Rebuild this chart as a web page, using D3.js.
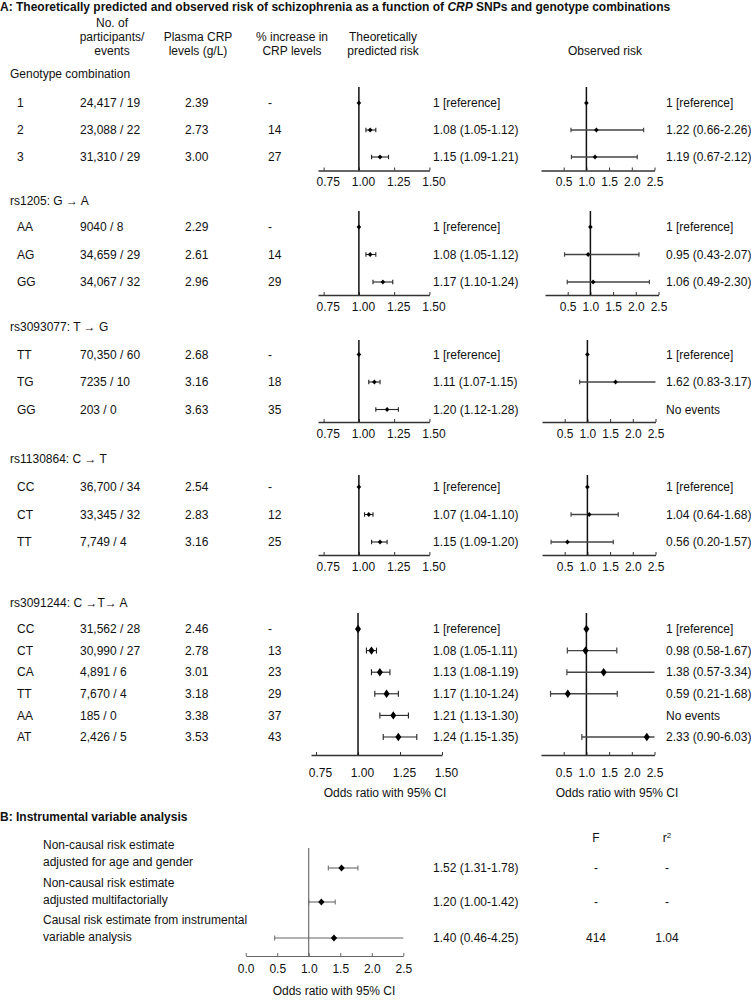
<!DOCTYPE html>
<html><head><meta charset="utf-8">
<script src="https://cdn.jsdelivr.net/npm/d3@7"></script>
<style>
body{margin:0;background:#fff}
svg text{font-family:'Liberation Sans Narrow','Arial Narrow','Liberation Sans',Arial,sans-serif;fill:#111;font-size:12px}
</style>
</head><body><svg id="c" width="751" height="1000"></svg>
<script>
// ---------------- DATA ----------------
const sectionTitles = ["Genotype combination", "rs1205: G \u2192 A", "rs3093077: T \u2192 G", "rs1130864: C \u2192 T", "rs3091244: C \u2192T\u2192 A"];
const rowSection   = [0,0,0, 1,1,1, 2,2,2, 3,3,3, 4,4,4,4,4,4];
const genotypes    = ["1","2","3", "AA","AG","GG", "TT","TG","GG", "CC","CT","TT", "CC","CT","CA","TT","AA","AT"];
const participants = ["24,417 / 19","23,088 / 22","31,310 / 29", "9040 / 8","34,659 / 29","34,067 / 32",
                      "70,350 / 60","7235 / 10","203 / 0", "36,700 / 34","33,345 / 32","7,749 / 4",
                      "31,562 / 28","30,990 / 27","4,891 / 6","7,670 / 4","185 / 0","2,426 / 5"];
const crpLevels    = [2.39,2.73,3.00, 2.29,2.61,2.96, 2.68,3.16,3.63, 2.54,2.83,3.16, 2.46,2.78,3.01,3.18,3.38,3.53];
const pctIncrease  = [null,14,27, null,14,29, null,18,35, null,12,25, null,13,23,29,37,43];
const theoOR = [1,1.08,1.15, 1,1.08,1.17, 1,1.11,1.20, 1,1.07,1.15, 1,1.08,1.13,1.17,1.21,1.24];
const theoLo = [null,1.05,1.09, null,1.05,1.10, null,1.07,1.12, null,1.04,1.09, null,1.05,1.08,1.10,1.13,1.15];
const theoHi = [null,1.12,1.21, null,1.12,1.24, null,1.15,1.28, null,1.10,1.20, null,1.11,1.19,1.24,1.30,1.35];
const obsOR  = [1,1.22,1.19, 1,0.95,1.06, 1,1.62,null, 1,1.04,0.56, 1,0.98,1.38,0.59,null,2.33];
const obsLo  = [null,0.66,0.67, null,0.43,0.49, null,0.83,null, null,0.64,0.20, null,0.58,0.57,0.21,null,0.90];
const obsHi  = [null,2.26,2.12, null,2.07,2.30, null,3.17,null, null,1.68,1.57, null,1.67,3.34,1.68,null,6.03];
const theoTicks = [0.75,1.00,1.25,1.50];
const obsTicks  = [0.5,1.0,1.5,2.0,2.5];

const bLabels = [["Non-causal risk estimate","adjusted for age and gender"],
                 ["Non-causal risk estimate","adjusted multifactorially"],
                 ["Causal risk estimate from instrumental","variable analysis"]];
const bOR = [1.52,1.20,1.40];
const bLo = [1.31,1.00,0.46];
const bHi = [1.78,1.42,4.25];
const bF  = ["-","-","414"];
const bR2 = ["-","-","1.04"];
const bTicks = [0,0.5,1.0,1.5,2.0,2.5];

// ---------------- LAYOUT ----------------
const layout = [
  {header:74,  first:103, step:27,   refTop:87,  axisY:170.5, labY:182, theoD:[0.71,1.5], theoR:[318,429.4], obsR:[541,654.5], big:false},
  {header:201, first:227, step:27.5, refTop:211, axisY:295,   labY:306.5, theoD:[0.71,1.5], theoR:[318,429.4], obsR:[545,658.5], big:false},
  {header:327, first:354.5,step:27.5,refTop:340, axisY:422,   labY:433.5, theoD:[0.71,1.5], theoR:[318,429.4], obsR:[542,655.5], big:false},
  {header:459, first:487, step:27.5, refTop:475, axisY:555,   labY:567, theoD:[0.71,1.5], theoR:[318,429.4], obsR:[542,655.5], big:false},
  {header:603, first:629, step:21.6, refTop:613, axisY:755,   labY:773, theoD:[0.72,1.5], theoR:[311,442], obsR:[541,654.5], big:true}
];
const colX = {geno:17, part:80, crp:185, pct:268, theoTxt:433, obsTxt:666};
const FONT = "'Liberation Sans Narrow','Arial Narrow','Liberation Sans',Arial,sans-serif";

const svg = d3.select("#c");
svg.append("rect").attr("width",751).attr("height",1000).attr("fill","#fff");

function txt(x,y,s,anchor){
  return svg.append("text").attr("x",x).attr("y",y).attr("dy","0.35em")
    .attr("text-anchor",anchor||"start").text(s);
}
function diamond(x,y,w,h){ return `M${x},${y-h}L${x+w},${y}L${x},${y+h}L${x-w},${y}Z`; }

// Title
const title = svg.append("text").attr("x",0).attr("y",7).attr("dy","0.35em")
  .style("font-weight","bold").style("font-size","12px");
title.append("tspan").text("A: Theoretically predicted and observed risk of schizophrenia as a function of ");
title.append("tspan").style("font-style","italic").text("CRP");
title.append("tspan").text(" SNPs and genotype combinations");

// Column headers
txt(112,23,"No. of","middle"); txt(112,37,"participants/","middle"); txt(112,51,"events","middle");
txt(198,37,"Plasma CRP","middle"); txt(198,51,"levels (g/L)","middle");
txt(292,37,"% increase in","middle"); txt(292,51,"CRP levels","middle");
txt(383,37,"Theoretically","middle"); txt(383,51,"predicted risk","middle");
txt(605,51,"Observed risk","middle");

// Sections
layout.forEach((L,si)=>{
  txt(10, L.header, sectionTitles[si]);
  const idx = rowSection.map((s,i)=>s===si?i:-1).filter(i=>i>=0);
  const rowY = k => L.first + k*L.step;
  const xT = d3.scaleLinear().domain(L.theoD).range(L.theoR);
  const xO = d3.scaleLinear().domain([0,2.5]).range(L.obsR);
  const mw = L.big?3:2.3, mh = L.big?4.2:2.6, cap = L.big?3:2.2;

  const gT = svg.append("g").attr("transform",`translate(0,${L.axisY})`)
    .call(d3.axisBottom(xT).tickValues(theoTicks).tickFormat(d3.format(".2f")).tickSizeInner(-3).tickSizeOuter(0));
  const gO = svg.append("g").attr("transform",`translate(0,${L.axisY})`)
    .call(d3.axisBottom(xO).tickValues(obsTicks).tickFormat(d3.format(".1f")).tickSizeInner(-3).tickSizeOuter(0));
  [gT,gO].forEach((g,gi)=>{
    g.select(".domain").attr("stroke","#333").attr("stroke-width",1.4);
    g.selectAll(".tick line").attr("stroke","#333");
    g.selectAll(".tick text").attr("y",L.labY-L.axisY).attr("dy","0.35em")
      .attr("dx",gi===0?4:0).attr("fill","#111").style("font-size","12px").style("font-family",FONT);
  });
  svg.append("line").attr("x1",xT(1)).attr("x2",xT(1)).attr("y1",L.refTop).attr("y2",L.axisY)
    .attr("stroke","#111").attr("stroke-width",1.5);
  svg.append("line").attr("x1",xO(1)).attr("x2",xO(1)).attr("y1",L.refTop).attr("y2",L.axisY)
    .attr("stroke","#111").attr("stroke-width",1.5);

  idx.forEach((i,k)=>{
    const y = rowY(k);
    txt(colX.geno,y,genotypes[i]);
    txt(colX.part,y,participants[i]);
    txt(colX.crp,y,crpLevels[i].toFixed(2));
    txt(colX.pct,y,pctIncrease[i]==null?"-":String(pctIncrease[i]));
    if(theoLo[i]!=null){
      svg.append("line").attr("x1",xT(theoLo[i])).attr("x2",xT(theoHi[i])).attr("y1",y).attr("y2",y)
        .attr("stroke","#222").attr("stroke-width",1.1);
      [theoLo[i],theoHi[i]].forEach(v=>svg.append("line").attr("x1",xT(v)).attr("x2",xT(v))
        .attr("y1",y-cap).attr("y2",y+cap).attr("stroke","#222").attr("stroke-width",1.1));
      txt(colX.theoTxt,y,`${theoOR[i].toFixed(2)} (${theoLo[i].toFixed(2)}-${theoHi[i].toFixed(2)})`);
    } else {
      txt(colX.theoTxt,y,"1 [reference]");
    }
    svg.append("path").attr("d",diamond(xT(theoOR[i]),y,mw,mh)).attr("fill","#000");
    if(obsOR[i]==null){
      txt(colX.obsTxt,y,"No events");
    } else if(obsLo[i]==null){
      svg.append("path").attr("d",diamond(xO(obsOR[i]),y,mw,mh)).attr("fill","#000");
      txt(colX.obsTxt,y,"1 [reference]");
    } else {
      const hiC = Math.min(obsHi[i],2.5), loC = Math.max(obsLo[i],0);
      svg.append("line").attr("x1",xO(loC)).attr("x2",xO(hiC)).attr("y1",y).attr("y2",y)
        .attr("stroke","#444").attr("stroke-width",1.4);
      if(loC===obsLo[i]) svg.append("line").attr("x1",xO(loC)).attr("x2",xO(loC)).attr("y1",y-cap).attr("y2",y+cap).attr("stroke","#444").attr("stroke-width",1.2);
      if(hiC===obsHi[i]) svg.append("line").attr("x1",xO(hiC)).attr("x2",xO(hiC)).attr("y1",y-cap).attr("y2",y+cap).attr("stroke","#444").attr("stroke-width",1.2);
      svg.append("path").attr("d",diamond(xO(obsOR[i]),y,mw,mh)).attr("fill","#000");
      txt(colX.obsTxt,y,`${obsOR[i].toFixed(2)} (${obsLo[i].toFixed(2)}-${obsHi[i].toFixed(2)})`);
    }
  });
  if(L.big){
    txt(385,793,"Odds ratio with 95% CI","middle");
    txt(617,793,"Odds ratio with 95% CI","middle");
  }
});

// ---------------- PANEL B ----------------
svg.append("text").attr("x",0).attr("y",817).attr("dy","0.35em")
  .style("font-weight","bold").style("font-size","12px").text("B: Instrumental variable analysis");
txt(596,838,"F","middle");
const r2 = txt(667,838,"r","middle");
r2.append("tspan").attr("baseline-shift","super").style("font-size","8px").text("2");

const bRowY = [868,902,938];
const bLabY = [[845,862],[883,900],[920,937]];
const xB = d3.scaleLinear().domain([0,2.5]).range([245.7,403.3]);
const bAxisY = 956;
const gB = svg.append("g").attr("transform",`translate(0,${bAxisY})`)
  .call(d3.axisBottom(xB).tickValues(bTicks).tickFormat(d3.format(".1f")).tickSizeInner(-3).tickSizeOuter(0));
gB.select(".domain").attr("stroke","#666").attr("stroke-width",1.2);
gB.selectAll(".tick line").attr("stroke","#666");
gB.selectAll(".tick text").attr("y",12.5).attr("dy","0.35em").attr("fill","#111").style("font-size","12px").style("font-family",FONT);
svg.append("line").attr("x1",xB(1)).attr("x2",xB(1)).attr("y1",848).attr("y2",bAxisY)
  .attr("stroke","#555").attr("stroke-width",1);

bOR.forEach((v,i)=>{
  const y = bRowY[i];
  txt(43,bLabY[i][0],bLabels[i][0]);
  txt(43,bLabY[i][1],bLabels[i][1]);
  const hiC = Math.min(bHi[i],2.5);
  svg.append("line").attr("x1",xB(bLo[i])).attr("x2",xB(hiC)).attr("y1",y).attr("y2",y)
    .attr("stroke","#666").attr("stroke-width",1.1);
  svg.append("line").attr("x1",xB(bLo[i])).attr("x2",xB(bLo[i])).attr("y1",y-2.5).attr("y2",y+2.5).attr("stroke","#666");
  if(hiC===bHi[i]) svg.append("line").attr("x1",xB(hiC)).attr("x2",xB(hiC)).attr("y1",y-2.5).attr("y2",y+2.5).attr("stroke","#666");
  svg.append("path").attr("d",diamond(xB(v),y,3.2,3.6)).attr("fill","#000");
  txt(433,y,`${v.toFixed(2)} (${bLo[i].toFixed(2)}-${bHi[i].toFixed(2)})`);
  txt(596,y,bF[i],"middle");
  txt(667,y,bR2[i],"middle");
});
txt(334,991,"Odds ratio with 95% CI","middle");
</script></body></html>
